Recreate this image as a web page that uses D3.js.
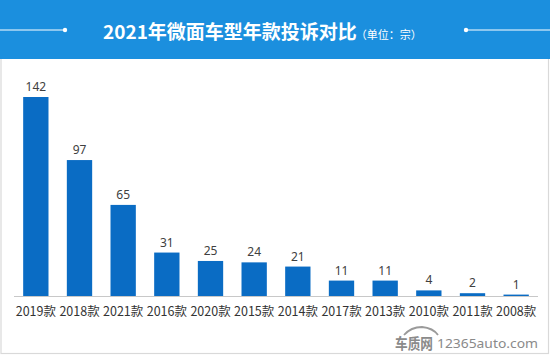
<!DOCTYPE html>
<html><head><meta charset="utf-8">
<script src="https://cdn.jsdelivr.net/npm/d3@7/dist/d3.min.js"></script>
<style>
html,body{margin:0;padding:0;background:#fff;}
svg{display:block;}
</style></head>
<body>
<svg id="chart" width="550" height="356"></svg>
<script>
const categories = ["2019款","2018款","2021款","2016款","2020款","2015款","2014款","2017款","2013款","2010款","2011款","2008款"];
const values = [142,97,65,31,25,24,21,11,11,4,2,1];
const titleText = "2021年微面车型年款投诉对比";
const unitText = "（单位：宗）";

const W = 550, H = 356;
const svg = d3.select("#chart");
const cjk = "'Noto Sans CJK SC','Microsoft YaHei',sans-serif";

// frame
svg.append("rect").attr("x",1).attr("y",58).attr("width",W-2.5).attr("height",H-58-2.5)
  .attr("fill","#fff").attr("stroke","#d9d9d9").attr("stroke-width",1.2);

// header
svg.append("rect").attr("x",0).attr("y",0).attr("width",W).attr("height",59).attr("fill","#1b8fde");
svg.append("line").attr("x1",0).attr("x2",65).attr("y1",30).attr("y2",30).attr("stroke","#fff").attr("stroke-width",1);
svg.append("circle").attr("cx",65).attr("cy",30).attr("r",2.2).attr("fill","#fff");
svg.append("line").attr("x1",466).attr("x2",W).attr("y1",30).attr("y2",30).attr("stroke","#fff").attr("stroke-width",1);
svg.append("circle").attr("cx",466).attr("cy",30).attr("r",2.2).attr("fill","#fff");
const t = svg.append("text").attr("x",103).attr("y",39).attr("fill","#fff")
  .style("font-family",cjk);
t.append("tspan").text(titleText).style("font-size","19px").style("font-weight","bold");
t.append("tspan").text(unitText).style("font-size","11px").attr("dx",-1);

// chart
const x = d3.scaleBand().domain(categories).range([14,538]).paddingInner(0.42).paddingOuter(0.21);
const y = d3.scaleLinear().domain([0,142]).range([296,97]);

svg.append("g").selectAll("rect").data(values).join("rect")
  .attr("x",(d,i)=>x(categories[i]))
  .attr("width",x.bandwidth())
  .attr("y",d=>y(d))
  .attr("height",d=>y(0)-y(d))
  .attr("fill","#0a6cc4");

svg.append("g").selectAll("text").data(values).join("text")
  .attr("x",(d,i)=>x(categories[i])+x.bandwidth()/2)
  .attr("y",d=>y(d)-6)
  .attr("text-anchor","middle")
  .attr("fill","#404040")
  .style("font-family","'Noto Sans',sans-serif")
  .style("font-size","12px")
  .text(d=>d);

const xAxis = svg.append("g").attr("transform","translate(0,296)")
  .call(d3.axisBottom(x).tickSize(0).tickPadding(11));
xAxis.select(".domain").attr("stroke","#c8c8c8").attr("d","M14,0.5H538");
xAxis.selectAll("text").attr("fill","#333").style("font-family",cjk).style("font-size","12.5px");

// watermark
svg.append("text").attr("x",395).attr("y",349).attr("fill","#8a8a8a")
  .attr("textLength",38).attr("lengthAdjust","spacingAndGlyphs")
  .style("font-family",cjk).style("font-size","15px").style("font-weight","bold").text("车质网");
svg.append("path").attr("d","M404,335 Q411,327 422,327 Q433,328 438,335")
  .attr("fill","none").attr("stroke","#9a9a9a").attr("stroke-width",1.8);
svg.append("text").attr("x",437).attr("y",348).attr("fill","#8a8a8a")
  .attr("textLength",101).attr("lengthAdjust","spacingAndGlyphs")
  .style("font-family","'Noto Sans',sans-serif").style("font-size","12.5px").text("12365auto.com");
</script>
</body></html>
